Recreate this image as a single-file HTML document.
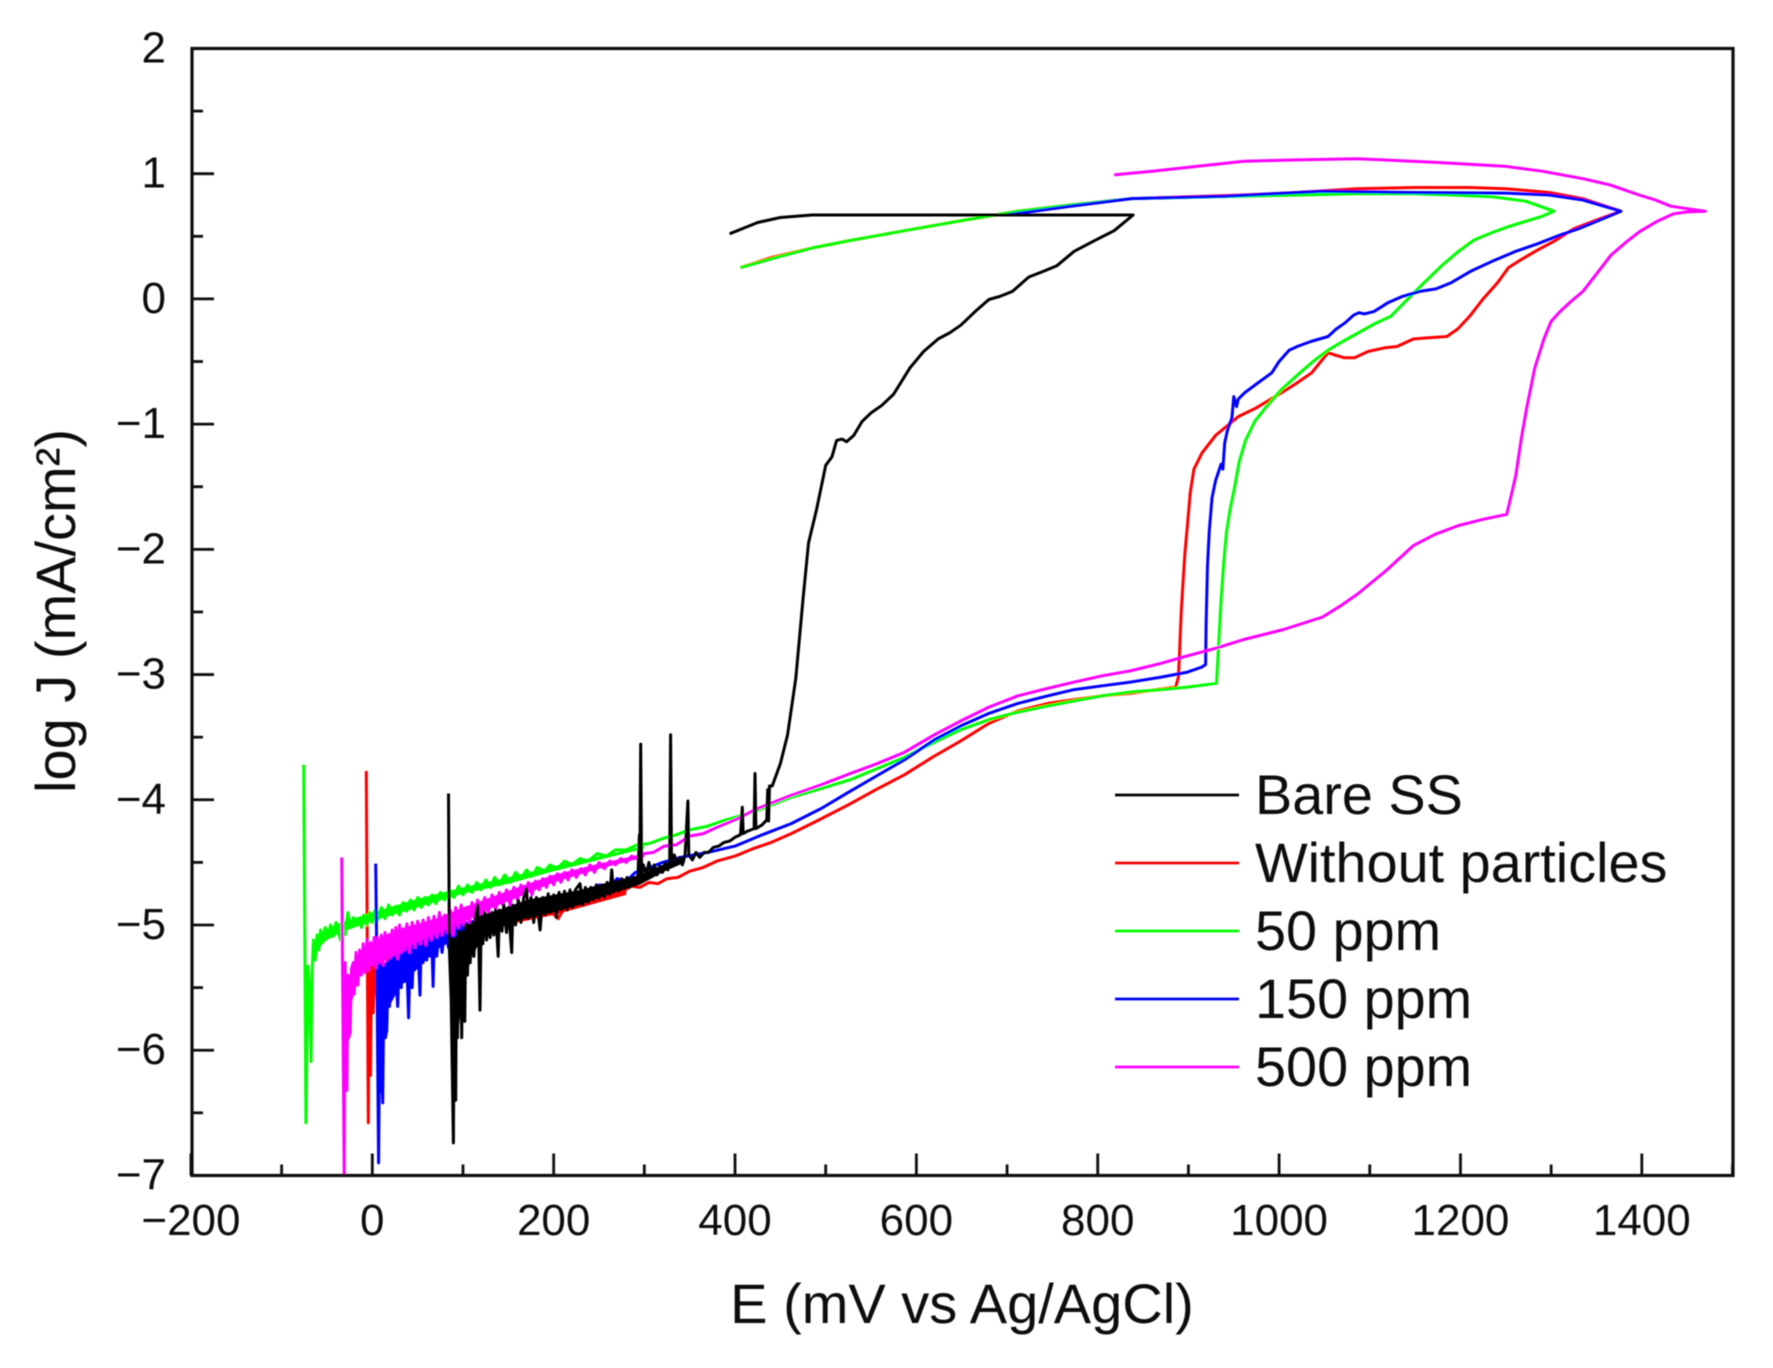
<!DOCTYPE html>
<html lang="en">
<head>
<meta charset="utf-8">
<title>Polarization curves</title>
<style>
html,body{margin:0;padding:0;background:#fff;}
svg{display:block;font-family:"Liberation Sans",sans-serif;}
</style>
</head>
<body>
<svg id="chart" xmlns="http://www.w3.org/2000/svg" width="1773" height="1368" viewBox="0 0 1773 1368">
<defs><filter id="soft" x="-2%" y="-2%" width="104%" height="104%"><feGaussianBlur stdDeviation="0.55"/></filter></defs>
<rect width="1773" height="1368" fill="#fff"/>
<g id="root" filter="url(#soft)"></g>
</svg>
<script>
const xTickLabels = [-200, 0, 200, 400, 600, 800, 1000, 1200, 1400];
const xMinorTicks = [-100, 100, 300, 500, 700, 900, 1100, 1300, 1500];
const yTickLabels = [2, 1, 0, -1, -2, -3, -4, -5, -6, -7];
const yMinorTicks = [1.5, 0.5, -0.5, -1.5, -2.5, -3.5, -4.5, -5.5, -6.5];
const seriesNames = ["Bare SS", "Without particles", "50 ppm", "150 ppm", "500 ppm"];

const bareSS = [[84,-3.95],[85,-5.2],[87,-5.6],[89.4,-6.74],[90.5,-5.3],[92,-6.4],[93,-5.1],[94,-5.9],[95,-5.05],[96,-5.5],[97,-5.1],[98.6,-5.9],[100,-5.05],[102,-5.77],[103,-5.0],[105,-5.4],[106,-5.0],[108,-5.3],[110,-4.98],[112,-5.25],[114,-4.92],[116.5,-4.84],[117.5,-5.15],[118.8,-5.68],[120,-5.0],[122,-5.15],[124,-4.9],[126,-5.12],[128,-4.92],[130,-5.1],[132,-4.9],[134,-5.08],[136,-4.88],[138.8,-5.25],[140,-4.88],[143,-5.05],[145,-4.84],[148,-5.06],[150,-4.86],[153.7,-5.22],[155,-4.84],[158,-5.0],[161,-4.8],[164,-4.98],[167,-4.78],[170,-4.71],[172,-4.95],[175,-4.78],[178,-4.98],[181,-4.78],[185,-5.04],[188,-4.78],[191,-4.92],[194,-4.75],[197,-4.9],[200,-4.76],[203,-4.94],[206,-4.74],[209,-4.88],[212,-4.73],[215,-4.88],[218,-4.72],[221,-4.86],[224,-4.72],[229,-4.67],[232,-4.84],[235,-4.7],[238,-4.82],[241,-4.7],[244,-4.8],[247,-4.68],[250,-4.79],[253,-4.68],[256,-4.78],[259,-4.66],[262,-4.76],[264,-4.56],[266,-4.74],[269,-4.65],[272,-4.73],[275,-4.63],[278,-4.71],[281,-4.62],[284,-4.7],[287,-4.62],[290,-4.68],[293,-4.6],[294.5,-4.28],[295,-4.62],[296,-3.555],[297,-4.6],[299,-4.52],[302,-4.6],[305,-4.5],[308,-4.6],[311,-4.52],[314,-4.6],[317,-4.53],[320,-4.58],[323,-4.5],[326,-4.56],[328,-4.48],[329,-3.48],[330,-4.5],[333,-4.44],[336,-4.5],[339,-4.46],[342,-4.52],[345,-4.44],[348,-4.01],[349,-4.44],[353,-4.48],[357,-4.42],[361,-4.46],[366,-4.42],[371,-4.42],[376,-4.38],[382,-4.37],[388,-4.34],[394,-4.33],[400,-4.3],[406,-4.28],[408,-4.06],[409,-4.27],[414,-4.25],[421,-4.23],[422,-3.79],[423,-4.23],[430,-4.2],[435,-4.16],[436,-3.92],[437,-4.17],[438,-3.89],[441,-3.89],[450,-3.71],[458,-3.48],[467,-3.03],[475,-2.4],[481,-1.95],[490,-1.68],[500,-1.33],[507,-1.26],[512,-1.13],[518,-1.12],[523,-1.14],[531,-1.09],[540,-0.98],[550,-0.91],[562,-0.85],[575,-0.76],[593,-0.55],[608,-0.42],[624,-0.32],[637,-0.27],[649,-0.21],[665,-0.1],[680,-0.005],[692,0.02],[706,0.06],[724,0.175],[740,0.22],[755,0.265],[774,0.38],[795,0.46],[818,0.545],[839,0.67],[700,0.67],[485,0.67],[450,0.65],[425,0.61],[394,0.52]];

const withoutParticles = [[-6.6,-3.77],[-5.5,-5.2],[-4.4,-6.58],[-3.2,-5.3],[-2,-6.2],[-1,-5.3],[1,-5.7],[3,-5.25],[6,-5.65],[9,-5.2],[14,-5.4],[20,-5.15],[30,-5.3],[40,-5.1],[60,-5.2],[80,-5.1],[100,-5.05],[120,-5.0],[140,-4.98],[160,-4.92],[180,-4.9],[195,-4.88],[205,-4.95],[215,-4.82],[225,-4.8],[235,-4.84],[245,-4.76],[255,-4.78],[265,-4.73],[275,-4.74],[285,-4.69],[295,-4.7],[305,-4.66],[315,-4.67],[325,-4.63],[337,-4.62],[350,-4.57],[365,-4.54],[380,-4.49],[400,-4.45],[420,-4.39],[440,-4.34],[462,-4.27],[490,-4.17],[525,-4.04],[555,-3.92],[587,-3.8],[620,-3.65],[649,-3.53],[680,-3.39],[712,-3.29],[745,-3.23],[774,-3.2],[805,-3.17],[836,-3.15],[865,-3.12],[886,-3.1],[889,-3.02],[890,-2.85],[892,-2.5],[896,-2.04],[899,-1.8],[902,-1.55],[906,-1.36],[915,-1.23],[930,-1.09],[955,-0.94],[975,-0.87],[998,-0.77],[1018,-0.68],[1036,-0.59],[1046,-0.5],[1054,-0.43],[1062,-0.45],[1072,-0.47],[1083,-0.47],[1098,-0.42],[1117,-0.39],[1130,-0.38],[1148,-0.32],[1165,-0.31],[1185,-0.3],[1197,-0.24],[1210,-0.14],[1225,0.0],[1241,0.13],[1253,0.25],[1266,0.31],[1285,0.39],[1303,0.46],[1325,0.56],[1350,0.63],[1377,0.7],[1335,0.8],[1298,0.85],[1250,0.88],[1210,0.89],[1150,0.89],[1085,0.88],[1020,0.85],[961,0.83],[900,0.815],[836,0.8],[770,0.75],[712,0.7],[650,0.625],[587,0.545],[530,0.47],[487,0.41],[440,0.33],[406,0.25]];

const ppm50 = [[-75.6,-3.72],[-74.4,-5.1],[-73.2,-6.58],[-71,-5.33],[-69,-5.6],[-67.6,-6.09],[-66.5,-5.4],[-65,-5.12],[-63,-5.28],[-61,-5.08],[-59,-5.2],[-57,-5.04],[-55,-5.14],[-52,-5.02],[-49,-5.1],[-46,-5.0],[-43,-5.09],[-40,-4.98],[-37,-5.07],[-35,-5.12],[-33,-4.96],[-30,-5.08],[-27,-4.9],[-24,-5.02],[-21,-4.94],[-18,-5.0],[-15,-4.96],[-12,-5.02],[-9,-4.92],[-6,-5.0],[-3,-4.9],[0,-4.98],[3,-4.88],[6,-4.96],[10,-4.86],[14,-4.95],[18,-4.84],[22,-4.92],[26,-4.85],[30,-4.92],[34,-4.82],[38,-4.89],[42,-4.8],[46,-4.88],[50,-4.78],[54,-4.86],[58,-4.78],[62,-4.84],[66,-4.76],[70,-4.83],[75,-4.74],[80,-4.8],[85,-4.72],[90,-4.78],[95,-4.69],[100,-4.76],[105,-4.68],[110,-4.74],[115,-4.66],[120,-4.72],[125,-4.64],[130,-4.7],[135,-4.62],[140,-4.68],[146,-4.6],[152,-4.66],[158,-4.58],[164,-4.63],[170,-4.56],[176,-4.61],[182,-4.54],[190,-4.57],[196,-4.52],[204,-4.55],[212,-4.49],[220,-4.52],[229,-4.47],[238,-4.49],[248,-4.43],[258,-4.45],[268,-4.4],[280,-4.4],[292,-4.36],[305,-4.35],[320,-4.31],[335,-4.28],[350,-4.24],[370,-4.21],[390,-4.16],[410,-4.12],[430,-4.07],[462,-3.98],[495,-3.91],[527,-3.84],[557,-3.75],[587,-3.66],[620,-3.54],[649,-3.44],[680,-3.36],[712,-3.3],[745,-3.25],[774,-3.21],[805,-3.17],[836,-3.14],[870,-3.12],[899,-3.1],[931,-3.07],[933,-2.8],[936,-2.4],[939,-2.1],[942,-1.86],[946,-1.68],[951,-1.5],[956,-1.3],[963,-1.13],[973,-0.98],[986,-0.86],[1003,-0.72],[1023,-0.59],[1039,-0.49],[1054,-0.41],[1070,-0.34],[1085,-0.28],[1105,-0.2],[1123,-0.14],[1142,0.0],[1160,0.13],[1180,0.27],[1198,0.38],[1215,0.47],[1235,0.53],[1254,0.58],[1272,0.62],[1290,0.66],[1303,0.7],[1272,0.78],[1235,0.815],[1190,0.83],[1148,0.84],[1085,0.84],[1023,0.83],[930,0.815],[836,0.8],[770,0.75],[712,0.7],[650,0.625],[587,0.545],[530,0.47],[487,0.41],[445,0.33],[406,0.25]];

const ppm150 = [[3.7,-4.51],[5,-5.3],[7,-6.9],[8.5,-5.4],[10,-6.0],[11.5,-6.42],[13,-5.4],[14.5,-5.9],[16,-5.84],[17.5,-5.3],[19,-5.65],[21,-5.25],[23,-5.55],[25,-5.2],[26.5,-5.45],[28,-5.65],[30,-5.2],[32,-5.5],[34,-5.15],[36,-5.45],[38,-5.3],[40,-5.74],[42,-5.15],[44,-5.5],[46,-5.1],[48,-5.3],[50,-5.1],[52.6,-5.56],[54,-5.1],[56,-5.3],[58,-5.08],[60,-5.28],[62,-5.06],[64,-5.25],[65.5,-5.1],[67,-5.49],[68.5,-5.05],[71,-5.25],[74,-5.04],[77,-5.22],[80,-5.02],[84,-5.18],[88,-5.0],[94,-5.12],[100,-4.96],[108,-5.08],[116,-4.92],[124,-5.04],[132,-4.9],[140,-5.0],[150,-4.86],[160,-4.96],[170,-4.82],[180,-4.92],[190,-4.8],[200,-4.88],[210,-4.76],[220,-4.84],[230,-4.72],[240,-4.78],[250,-4.68],[260,-4.72],[270,-4.63],[280,-4.65],[290,-4.58],[300,-4.56],[320,-4.5],[340,-4.46],[370,-4.42],[400,-4.37],[430,-4.28],[462,-4.19],[495,-4.07],[525,-3.94],[556,-3.81],[587,-3.68],[620,-3.52],[649,-3.41],[680,-3.31],[712,-3.23],[745,-3.17],[774,-3.12],[805,-3.09],[836,-3.06],[870,-3.02],[899,-2.98],[915,-2.94],[919,-2.92],[919.5,-2.6],[921,-2.13],[923,-1.85],[926,-1.59],[930,-1.45],[936,-1.32],[938,-1.36],[940,-1.15],[943,-1.05],[948,-0.95],[950,-0.78],[953,-0.86],[955,-0.8],[962,-0.75],[975,-0.68],[992,-0.59],[1000,-0.5],[1011,-0.41],[1020,-0.38],[1035,-0.34],[1054,-0.3],[1063,-0.24],[1073,-0.19],[1082,-0.13],[1088,-0.11],[1094,-0.12],[1105,-0.1],[1120,-0.03],[1136,0.02],[1155,0.06],[1173,0.08],[1190,0.13],[1211,0.22],[1235,0.3],[1261,0.38],[1285,0.44],[1310,0.51],[1330,0.56],[1347,0.61],[1377,0.7],[1335,0.79],[1298,0.83],[1250,0.845],[1148,0.85],[1048,0.86],[940,0.82],[836,0.8],[770,0.74],[699,0.67]];

const ppm500 = [[-33.8,-4.46],[-32.5,-5.6],[-31,-7.0],[-30,-5.3],[-29,-5.8],[-28,-6.32],[-27,-5.4],[-26,-5.9],[-24.6,-5.86],[-23,-5.35],[-21,-5.3],[-20,-5.55],[-18,-5.22],[-16,-5.48],[-14,-5.2],[-12,-5.4],[-10,-5.15],[-8,-5.38],[-6,-5.12],[-4,-5.36],[-2,-5.14],[0,-5.32],[2,-5.1],[4,-5.34],[6,-5.1],[8,-5.3],[10,-5.08],[12,-5.32],[14,-5.06],[16,-5.28],[18,-5.08],[20,-5.26],[22,-5.04],[24,-5.24],[26,-5.02],[28,-5.27],[30,-5.0],[32,-5.22],[34,-5.03],[36,-5.2],[38,-4.99],[41,-5.22],[44,-4.98],[47,-5.18],[50,-4.97],[53,-5.15],[56,-4.96],[59,-5.16],[62,-4.94],[65,-5.12],[68,-4.93],[71,-5.1],[74,-4.9],[77,-5.08],[80,-4.92],[83,-5.06],[86,-4.88],[89,-5.08],[92,-4.86],[95,-5.02],[98,-4.84],[101,-5.0],[104,-4.86],[107,-4.98],[110,-4.82],[113,-4.96],[116,-4.8],[120,-4.92],[124,-4.78],[128,-4.9],[132,-4.76],[136,-4.88],[140,-4.74],[144,-4.84],[148,-4.72],[152,-4.84],[156,-4.7],[160,-4.8],[164,-4.68],[168,-4.78],[172,-4.66],[176,-4.76],[180,-4.65],[184,-4.72],[188,-4.63],[192,-4.7],[196,-4.61],[200,-4.68],[204,-4.59],[208,-4.66],[212,-4.58],[216,-4.64],[220,-4.56],[225,-4.62],[230,-4.55],[235,-4.6],[240,-4.52],[245,-4.58],[250,-4.5],[256,-4.55],[262,-4.49],[268,-4.52],[274,-4.47],[280,-4.5],[286,-4.45],[292,-4.47],[300,-4.43],[310,-4.42],[322,-4.37],[335,-4.36],[350,-4.29],[365,-4.27],[380,-4.22],[400,-4.16],[425,-4.07],[460,-3.97],[495,-3.88],[527,-3.79],[557,-3.71],[587,-3.62],[620,-3.48],[649,-3.37],[680,-3.26],[712,-3.17],[745,-3.11],[774,-3.06],[805,-3.01],[836,-2.97],[870,-2.91],[899,-2.85],[930,-2.79],[961,-2.72],[1005,-2.64],[1048,-2.54],[1068,-2.45],[1086,-2.36],[1118,-2.17],[1148,-1.97],[1172,-1.88],[1198,-1.81],[1225,-1.76],[1251,-1.72],[1255,-1.6],[1261,-1.41],[1267,-1.12],[1273,-0.87],[1282,-0.55],[1292,-0.32],[1300,-0.18],[1310,-0.1],[1322,-0.02],[1335,0.06],[1350,0.2],[1366,0.35],[1382,0.45],[1398,0.54],[1417,0.62],[1435,0.68],[1450,0.695],[1470,0.7],[1450,0.72],[1432,0.74],[1415,0.79],[1397,0.83],[1365,0.91],[1335,0.96],[1290,1.02],[1248,1.06],[1173,1.09],[1086,1.12],[1020,1.11],[961,1.1],[899,1.05],[860,1.02],[818,0.99]];

/* noise envelopes: [E, upper logJ, lower logJ] */
const bareSSBand = [[86,-5.1,-5.1],[88,-5.1,-6.2],[90,-5.1,-6.6],[92,-5.1,-6.0],[95,-5.05,-5.85],[100,-5.05,-5.5],[110,-4.98,-5.25],[120,-4.92,-5.12],[140,-4.88,-5.02],[170,-4.8,-4.95],[200,-4.76,-4.9],[230,-4.72,-4.84],[260,-4.66,-4.76],[295,-4.6,-4.68],[320,-4.52,-4.58],[345,-4.45,-4.5]];
const withoutParticlesBand = [[-4,-5.3,-5.75],[2,-5.25,-5.6],[10,-5.2,-5.3],[40,-5.1,-5.15],[100,-5.0,-5.07],[200,-4.85,-4.92],[280,-4.7,-4.76]];
const ppm50Band = [[-62,-5.08,-5.2],[-50,-5.03,-5.12],[-35,-4.98,-5.06],[0,-4.9,-4.97],[50,-4.79,-4.86],[100,-4.7,-4.75],[150,-4.62,-4.67],[200,-4.53,-4.57],[250,-4.45,-4.48],[300,-4.37,-4.39]];
const ppm150Band = [[6,-5.3,-5.4],[8,-5.3,-6.3],[11,-5.3,-6.4],[13,-5.3,-5.9],[15,-5.3,-5.7],[30,-5.2,-5.5],[50,-5.12,-5.35],[70,-5.06,-5.2],[90,-5.0,-5.12],[130,-4.92,-5.0],[200,-4.8,-4.86],[260,-4.68,-4.73]];
const ppm500Band = [[-32,-5.4,-6.4],[-28,-5.4,-6.2],[-25,-5.4,-5.8],[-22,-5.35,-5.6],[-15,-5.22,-5.42],[0,-5.14,-5.3],[20,-5.06,-5.22],[40,-5.01,-5.17],[70,-4.95,-5.07],[100,-4.86,-4.98],[130,-4.78,-4.87],[160,-4.7,-4.78],[200,-4.6,-4.66],[250,-4.51,-4.55],[300,-4.43,-4.46]];

const seriesColors = ["#000000", "#ff0000", "#00ff00", "#0000ff", "#ff00ff"];
const seriesKeys = ["bare-ss", "without-particles", "50-ppm", "150-ppm", "500-ppm"];
const seriesData = [bareSS, withoutParticles, ppm50, ppm150, ppm500];
const seriesBands = [bareSSBand, withoutParticlesBand, ppm50Band, ppm150Band, ppm500Band];
const drawOrder = [1, 2, 3, 4, 0];

const NS = "http://www.w3.org/2000/svg";
const root = document.getElementById("root");
const plot = { left: 192, right: 1733, top: 48.5, bottom: 1175.5 };
const ink = "#111";
const xScale = function (v) { return 372.3 + 0.9068 * v; };
const yScale = function (v) { return 298.9 - 125.22 * v; };

function el(tag, attrs, parent) {
  const node = document.createElementNS(NS, tag);
  Object.keys(attrs).forEach(function (k) { node.setAttribute(k, attrs[k]); });
  (parent || root).appendChild(node);
  return node;
}
function minusText(v) { return v < 0 ? "\u2212" + Math.abs(v) : String(v); }

drawOrder.forEach(function (i) {
  const band = seriesBands[i];
  const upper = band.map(function (b) { return xScale(b[0]).toFixed(1) + "," + yScale(b[1]).toFixed(1); });
  const lower = band.slice().reverse().map(function (b) { return xScale(b[0]).toFixed(1) + "," + yScale(b[2]).toFixed(1); });
  const fill = el("polygon", { points: upper.concat(lower).join(" "), fill: seriesColors[i] });
  
  
  const d = seriesData[i].map(function (p, j) {
    return (j ? "L" : "M") + xScale(p[0]).toFixed(1) + " " + yScale(p[1]).toFixed(1);
  }).join("");
  const line = el("path", { d: d, fill: "none", stroke: seriesColors[i], "stroke-width": 3, "stroke-linejoin": "round" });
  
  
});

const frame = el("rect", { x: plot.left, y: plot.top, width: plot.right - plot.left, height: plot.bottom - plot.top, fill: "none", stroke: ink, "stroke-width": 3.2 });



xTickLabels.forEach(function (v) {
  const x = xScale(v);
  const tick = el("line", { x1: x, x2: x, y1: plot.bottom, y2: plot.bottom - 22, stroke: ink, "stroke-width": 2.8 });
  
  
  const label = el("text", { x: x, y: 1235, "text-anchor": "middle", "font-size": 44, fill: ink });
  label.textContent = minusText(v);
  
  
});
xMinorTicks.forEach(function (v) {
  const x = xScale(v);
  const tick = el("line", { x1: x, x2: x, y1: plot.bottom, y2: plot.bottom - 11, stroke: ink, "stroke-width": 2.8 });
  
  
});
yTickLabels.forEach(function (v) {
  const y = yScale(v);
  const tick = el("line", { x1: plot.left, x2: plot.left + 22, y1: y, y2: y, stroke: ink, "stroke-width": 2.8 });
  
  
  const label = el("text", { x: 166, y: y + 14, "text-anchor": "end", "font-size": 44, fill: ink });
  label.textContent = minusText(v);
  
  
});
yMinorTicks.forEach(function (v) {
  const y = yScale(v);
  const tick = el("line", { x1: plot.left, x2: plot.left + 11, y1: y, y2: y, stroke: ink, "stroke-width": 2.8 });
  
  
});

const xTitle = el("text", { x: 962, y: 1323, "text-anchor": "middle", "font-size": 56, fill: ink });
xTitle.textContent = "E (mV vs Ag/AgCl)";



const yTitle = el("text", { transform: "translate(75 611) rotate(-90)", "text-anchor": "middle", "font-size": 56, fill: ink });
yTitle.textContent = "log J (mA/cm\u00B2)";



seriesNames.forEach(function (name, i) {
  const y = 795 + i * 68;
  const swatch = el("line", { x1: 1115, x2: 1239, y1: y, y2: y, stroke: seriesColors[i], "stroke-width": 2.8 });
  
  
  const text = el("text", { x: 1255, y: y + 19, "font-size": 55.8, fill: ink });
  text.textContent = name;
  
  
});
</script>
</body>
</html>
